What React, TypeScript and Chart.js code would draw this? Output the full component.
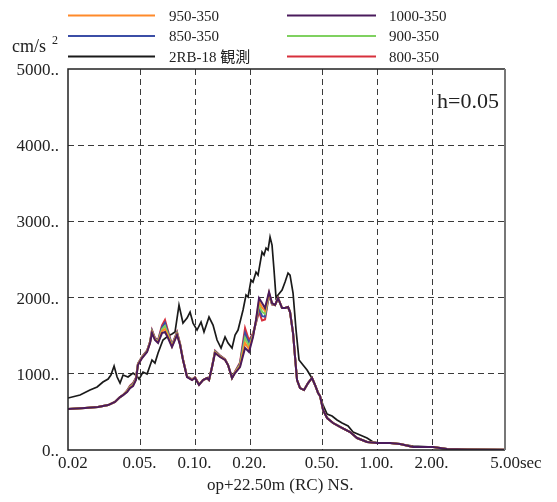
import React, { useEffect, useRef } from 'react';
import { Chart, registerables } from 'chart.js';
Chart.register(...registerables);

// ---- axis ticks ----
const xTickValues = [0.02, 0.05, 0.1, 0.2, 0.5, 1, 2, 5];
const xTickLabels = ['0.02', '0.05.', '0.10.', '0.20.', '0.50.', '1.00.', '2.00.', '5.00sec'];
const yTickValues = [0, 1000, 2000, 3000, 4000, 5000];
const yTickLabels = ['0..', '1000..', '2000..', '3000..', '4000..', '5000..'];

// ---- observed record (black) ----
const obsPeriods = [0.0200,0.0233,0.0264,0.0289,0.0311,0.0332,0.0344,0.0358,0.0372,0.0386,0.0401,0.0427,0.0455,0.0478,0.0491,0.0516,0.0543,0.0578,0.0600,0.0624,0.0664,0.0708,0.0744,0.0773,0.0813,0.0855,0.0900,0.0935,0.0971,0.1021,0.1074,0.1115,0.1188,0.1250,0.1315,0.1383,0.1455,0.1511,0.1589,0.1651,0.1714,0.1826,0.1896,0.1945,0.2020,0.2071,0.2151,0.2207,0.2322,0.2381,0.2442,0.2504,0.2569,0.2634,0.2701,0.2771,0.2842,0.2990,0.3105,0.3225,0.3307,0.3435,0.3568,0.3705,0.3897,0.4100,0.4258,0.4423,0.4712,0.5020,0.5280,0.5623,0.5990,0.6382,0.6885,0.7333,0.8012,0.8750,0.9441,1.031,1.171,1.328,1.565,2.015,2.404,3.097,5.0];
const obsValues = [682,721,787,827,892,931,984,1102,958,879,984,958,1010,971,931,1023,997,1181,1141,1273,1443,1496,1522,1548,1902,1666,1732,1810,1666,1574,1679,1548,1745,1640,1443,1338,1483,1404,1338,1509,1574,1837,2034,2007,2230,2204,2335,2296,2598,2558,2650,2624,2795,2690,2362,1994,2034,2100,2204,2322,2296,2060,1574,1181,1115,1050,984,918,761,590,472,446,394,354,315,236,197,157,105,92,92,79,52,39,13,7,3];

// ---- simulations ----
const simPeriods = [0.0200,0.0248,0.0292,0.0332,0.0362,0.0386,0.0401,0.0422,0.0438,0.0455,0.0472,0.0484,0.0510,0.0543,0.0564,0.0578,0.0600,0.0624,0.0656,0.0681,0.0708,0.0744,0.0793,0.0824,0.0855,0.0900,0.0959,0.0996,0.1047,0.1101,0.1159,0.1188,0.1234,0.1282,0.1366,0.1455,0.1511,0.1589,0.1651,0.1758,0.1873,0.1970,0.2071,0.2151,0.2235,0.2322,0.2411,0.2536,0.2634,0.2736,0.2842,0.2990,0.3105,0.3225,0.3307,0.3435,0.3523,0.3613,0.3752,0.3947,0.4152,0.4367,0.4537,0.4712,0.4833,0.5020,0.5280,0.5696,0.6222,0.7061,0.7713,0.8750,0.9931,1.171,1.328,1.565,2.015,2.404,3.097,5.0];
const tail = [1994,1863,1863,1876,1810,1535,1220,918,813,787,879,945,853,748,708,525,420,354,302,236,157,105,92,92,79,39,39,13,7,3];
const sim1000 = [538,551,564,590,630,695,721,761,813,840,918,1115,1207,1286,1404,1535,1443,1404,1535,1548,1470,1351,1509,1378,1181,958,918,945,853,918,945,918,1089,1273,1220,1181,1115,945,1010,1089,1340,1286,1483,1706,1994,1929,1863,2073,1929,1902, ...tail];
const sim950 = [538,551,564,590,630,695,721,766,821,850,926,1120,1212,1291,1409,1545,1451,1414,1560,1588,1493,1359,1519,1383,1184,961,921,948,856,918,945,918,1089,1281,1225,1184,1115,945,1015,1104,1405,1324,1496,1696,1949,1871,1825,2063,1924,1902, ...tail];
const sim900 = [538,551,564,590,630,695,721,771,828,860,933,1125,1217,1296,1414,1555,1458,1424,1585,1628,1515,1366,1529,1388,1186,963,923,950,858,918,945,918,1089,1288,1230,1186,1115,945,1020,1119,1470,1361,1508,1686,1904,1814,1788,2053,1919,1902, ...tail];
const sim850 = [538,551,564,590,630,695,721,776,836,870,941,1130,1222,1301,1419,1565,1466,1434,1610,1668,1538,1374,1539,1393,1189,966,926,953,861,918,945,918,1089,1296,1235,1189,1115,945,1025,1134,1535,1399,1521,1676,1859,1756,1750,2043,1914,1902, ...tail];
const sim800 = [538,551,564,590,630,695,721,781,843,880,948,1135,1227,1306,1424,1575,1473,1444,1635,1708,1560,1381,1549,1398,1191,968,928,955,863,918,945,918,1089,1303,1240,1191,1115,945,1030,1149,1600,1436,1533,1666,1814,1699,1713,2033,1909,1902, ...tail];

const seriesNames = ['950-350', '850-350', '2RB-18 観測', '1000-350', '900-350', '800-350'];
const seriesColors = ['#ff8a2a', '#3b4ea6', '#1a1a1a', '#4a1b5c', '#7fd160', '#d7303c'];

const FONT = '"Liberation Serif", "Times New Roman", "Noto Sans CJK JP", serif';

const toPts = (xs: number[], ys: number[]) => xs.map((x, i) => ({ x, y: ys[i] }));

const overlay = {
  id: 'overlay',
  afterDraw(chart: any) {
    const { ctx, chartArea: a, scales } = chart;
    const xs = scales.x;
    const ys = scales.y;
    ctx.save();
    // frame
    ctx.strokeStyle = '#222';
    ctx.lineWidth = 1.5;
    ctx.beginPath();
    ctx.moveTo(a.right, a.top);
    ctx.lineTo(a.left, a.top);
    ctx.lineTo(a.left, a.bottom);
    ctx.lineTo(a.right, a.bottom);
    ctx.stroke();
    ctx.strokeStyle = '#777';
    ctx.lineWidth = 2;
    ctx.beginPath();
    ctx.moveTo(a.right, a.top);
    ctx.lineTo(a.right, a.bottom);
    ctx.stroke();

    ctx.fillStyle = '#222';
    // y labels
    ctx.font = `17px ${FONT}`;
    ctx.textAlign = 'right';
    ctx.textBaseline = 'alphabetic';
    yTickValues.forEach((v, i) => {
      ctx.fillText(yTickLabels[i], a.left - 9, ys.getPixelForValue(v) + 6);
    });
    // x labels
    xTickValues.forEach((v, i) => {
      const px = xs.getPixelForValue(v);
      const lbl = xTickLabels[i];
      if (i === 0) {
        ctx.textAlign = 'left';
        ctx.fillText(lbl, px - 10, 468);
      } else if (i === xTickValues.length - 1) {
        const w = ctx.measureText('5.00').width;
        ctx.textAlign = 'left';
        ctx.fillText(lbl, px - w / 2, 468);
      } else {
        ctx.textAlign = 'center';
        ctx.fillText(lbl, px - 1, 468);
      }
    });
    // unit
    ctx.textAlign = 'left';
    ctx.font = `18px ${FONT}`;
    ctx.fillText('cm/s', 12, 52);
    ctx.font = `12px ${FONT}`;
    ctx.fillText('2', 52, 44);
    // h label
    ctx.font = `22px ${FONT}`;
    ctx.fillText('h=0.05', 437, 108);
    // title
    ctx.font = `17px ${FONT}`;
    ctx.fillText('op+22.50m (RC) NS.', 207, 490);
    // legend
    const rows = [15.5, 36, 56.5];
    const cols = [[68, 155, 169], [287, 376, 389]];
    ctx.font = `15px ${FONT}`;
    seriesNames.forEach((name, i) => {
      const c = cols[Math.floor(i / 3)];
      const y = rows[i % 3];
      ctx.strokeStyle = seriesColors[i];
      ctx.lineWidth = 2;
      ctx.beginPath();
      ctx.moveTo(c[0], y);
      ctx.lineTo(c[1], y);
      ctx.stroke();
      ctx.fillStyle = '#222';
      ctx.fillText(name, c[2], y + 5);
    });
    ctx.restore();
  },
};

export default function App() {
  const ref = useRef<HTMLCanvasElement>(null);
  useEffect(() => {
    if (!ref.current) return;
    const mk = (label: string, color: string, pts: any, order: number, width: number) => ({
      label,
      data: pts,
      borderColor: color,
      backgroundColor: color,
      borderWidth: width,
      pointRadius: 0,
      tension: 0,
      fill: false,
      order,
    });
    const chart = new Chart(ref.current, {
      type: 'line',
      data: {
        datasets: [
          mk(seriesNames[3], seriesColors[3], toPts(simPeriods, sim1000), 0, 2),
          mk(seriesNames[0], seriesColors[0], toPts(simPeriods, sim950), 1, 2),
          mk(seriesNames[4], seriesColors[4], toPts(simPeriods, sim900), 2, 2),
          mk(seriesNames[1], seriesColors[1], toPts(simPeriods, sim850), 3, 2),
          mk(seriesNames[5], seriesColors[5], toPts(simPeriods, sim800), 4, 2),
          mk(seriesNames[2], seriesColors[2], toPts(obsPeriods, obsValues), 5, 1.7),
        ],
      },
      options: {
        responsive: false,
        animation: false,
        parsing: true,
        layout: { padding: { left: 68, right: 52, top: 69, bottom: 52 } },
        plugins: { legend: { display: false }, tooltip: { enabled: false } },
        scales: {
          x: {
            type: 'logarithmic',
            min: 0.02,
            max: 5,
            afterBuildTicks: (axis: any) => {
              axis.ticks = xTickValues.map((v) => ({ value: v }));
            },
            ticks: { display: false },
            grid: {
              drawTicks: false,
              lineWidth: 1,
              color: (c: any) =>
                c.tick && (c.tick.value === 0.02 || c.tick.value === 5) ? 'rgba(0,0,0,0)' : '#3a3a3a',
            },
            border: { display: false, dash: [6, 4] },
          },
          y: {
            type: 'linear',
            min: 0,
            max: 5000,
            afterBuildTicks: (axis: any) => {
              axis.ticks = yTickValues.map((v) => ({ value: v }));
            },
            ticks: { display: false },
            grid: {
              drawTicks: false,
              lineWidth: 1,
              color: (c: any) =>
                c.tick && (c.tick.value === 0 || c.tick.value === 5000) ? 'rgba(0,0,0,0)' : '#3a3a3a',
            },
            border: { display: false, dash: [6, 4] },
          },
        },
      },
      plugins: [overlay],
    } as any);
    return () => chart.destroy();
  }, []);
  return (
    <div style={{ position: 'fixed', left: 0, top: 0, width: 557, height: 502, background: '#fff' }}>
      <canvas ref={ref} width={557} height={502} style={{ width: 557, height: 502, display: 'block' }} />
    </div>
  );
}
